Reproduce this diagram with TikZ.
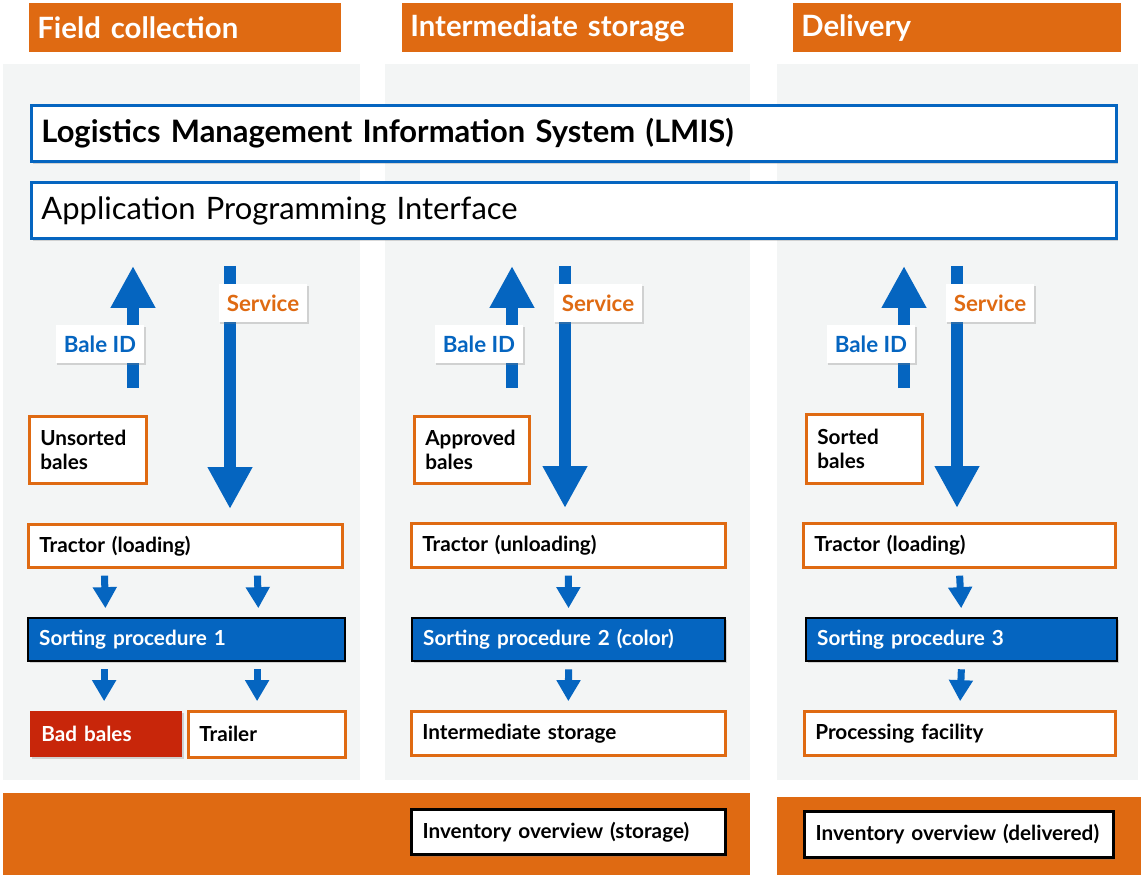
\documentclass[tikz,border=0pt]{standalone}
\usepackage{fontspec}
\setmainfont{Lato}
\usetikzlibrary{arrows.meta,shadows}

\definecolor{hdrorange}{HTML}{DF6A12}
\definecolor{lmisblue}{HTML}{0565C0}
\definecolor{badred}{HTML}{C8260A}
\definecolor{panelgrey}{HTML}{F3F5F5}

\tikzset{
  softshadow/.style={drop shadow={shadow xshift=0.8pt,shadow yshift=-1.2pt,opacity=0.3}},
  header/.style={fill=hdrorange,text=white,anchor=north west,align=left,
    inner xsep=0.16cm,minimum height=0.98cm,font=\fontsize{16.7}{19}\selectfont\bfseries},
  sysbox/.style={draw=lmisblue,line width=1.7pt,fill=white,anchor=north west,align=left,
    inner xsep=0.2cm,minimum height=1.12cm,text width=21.3cm,softshadow},
  obox/.style={draw=hdrorange,line width=1.5pt,fill=white,anchor=north west,align=left,
    inner xsep=0.22cm,inner ysep=0pt,font=\fontsize{11.8}{14}\selectfont\bfseries,softshadow},
  sortbox/.style={obox,draw=black,line width=1.3pt,fill=lmisblue,text=white},
  badbox/.style={obox,draw=none,fill=badred,text=white},
  invbox/.style={obox,draw=black,line width=1.8pt},
  tag/.style={fill=white,minimum height=0.77cm,inner xsep=0.16cm,
    font=\fontsize{12.7}{15}\selectfont\bfseries,softshadow},
  bigarrow/.style={draw=lmisblue,line width=6.8pt,-{Triangle[length=23.8pt,width=23.8pt]}},
  smallarrow/.style={draw=lmisblue,line width=4pt,-{Triangle[length=12pt,width=13pt]},
    shorten <=4pt,shorten >=5pt}
}

\begin{document}
\begin{tikzpicture}[x=0.02cm,y=-0.02cm]
\useasboundingbox (0,0) rectangle (1141,875);

% panels and bands
\fill[panelgrey] (3,64) rectangle (360,780);
\fill[panelgrey] (385,64) rectangle (750,780);
\fill[panelgrey] (777,64) rectangle (1138,780);
\fill[hdrorange] (3,793) rectangle (750,875);
\fill[hdrorange] (777,797) rectangle (1141,875);

% headers
\node[header,text width=5.92cm] (hfield) at (29,3) {Field collection};
\node[header,text width=6.30cm] (hinter) at (402,3) {Intermediate storage};
\node[header,text width=6.24cm] (hdeliv) at (793,3) {Delivery};

% system
\node[sysbox,font=\fontsize{17.6}{20}\selectfont\bfseries] (lmis) at (30,104)
  {Logistics Management Information System (LMIS)};
\node[sysbox,font=\fontsize{17.6}{20}\selectfont] (api) at (30,181)
  {Application Programming Interface};

% field collection
\node[obox,text width=1.90cm,minimum height=1.34cm] (unsorted) at (28,415) {Unsorted\\bales};
\node[obox,text width=5.84cm,minimum height=0.86cm] (trac1) at (27,523) {Tractor (loading)};
\node[sortbox,text width=5.90cm,minimum height=0.86cm] (sort1) at (27,617) {Sorting procedure 1};
\node[badbox,text width=2.60cm,minimum height=0.92cm] (bad) at (29,710) {Bad bales};
\node[obox,text width=2.70cm,minimum height=0.92cm] (trailer) at (187,710) {Trailer};

% intermediate storage
\node[obox,text width=1.86cm,minimum height=1.34cm] (approved) at (413,415) {Approved\\bales};
\node[obox,text width=5.84cm,minimum height=0.88cm] (trac2) at (410,522) {Tractor (unloading)};
\node[sortbox,text width=5.82cm,minimum height=0.86cm] (sort2) at (411,617) {Sorting procedure 2 (color)};
\node[obox,text width=5.84cm,minimum height=0.88cm] (inter) at (410,710) {Intermediate storage};
\node[invbox,text width=5.84cm,minimum height=0.90cm] (inv2) at (410,808) {Inventory overview (storage)};

% delivery
\node[obox,text width=1.88cm,minimum height=1.38cm] (sorted) at (805,413) {Sorted\\bales};
\node[obox,text width=5.80cm,minimum height=0.88cm] (trac3) at (802,522) {Tractor (loading)};
\node[sortbox,text width=5.78cm,minimum height=0.86cm] (sort3) at (805,617) {Sorting procedure 3};
\node[obox,text width=5.78cm,minimum height=0.88cm] (proc) at (803,710) {Processing facility};
\node[invbox,text width=5.74cm,minimum height=0.92cm] (inv3) at (803,810) {Inventory overview (delivered)};

% Bale ID up, Service down
\foreach \c/\u/\d in {1/133/230,2/512/565,3/904/957} {
  \coordinate (up\c) at (\u,388);
  \coordinate (dn\c) at (\d,0);
  \draw[bigarrow,shorten >=0.52cm] (up\c) -- (up\c |- api.south);
  \draw[bigarrow,shorten <=0.52cm,shorten >=0.28cm] (dn\c |- api.south) -- (dn\c |- trac\c.north);
  \node[tag,text=lmisblue] (bale\c) at ({\u-33},344) {Bale ID};
  \node[tag,text=hdrorange] (serv\c) at ({\d+33},303) {Service};
}

% flow
\draw[smallarrow] ([xshift=-1.62cm]trac1.south) -- ([xshift=-1.62cm]sort1.north);
\draw[smallarrow] ([xshift=1.44cm]trac1.south) -- ([xshift=1.44cm]sort1.north);
\draw[smallarrow] ([xshift=-1.65cm]sort1.south) -- ([xshift=-1.65cm]sort1.south |- bad.north);
\draw[smallarrow] ([xshift=1.41cm]sort1.south) -- ([xshift=1.41cm]sort1.south |- trailer.north);
\draw[smallarrow] (trac2.south) -- (sort2.north);
\draw[smallarrow] (sort2.south) -- (inter.north);
\draw[smallarrow] (trac3.south) -- (sort3.north);
\draw[smallarrow] (sort3.south) -- (proc.north);
\end{tikzpicture}
\end{document}
